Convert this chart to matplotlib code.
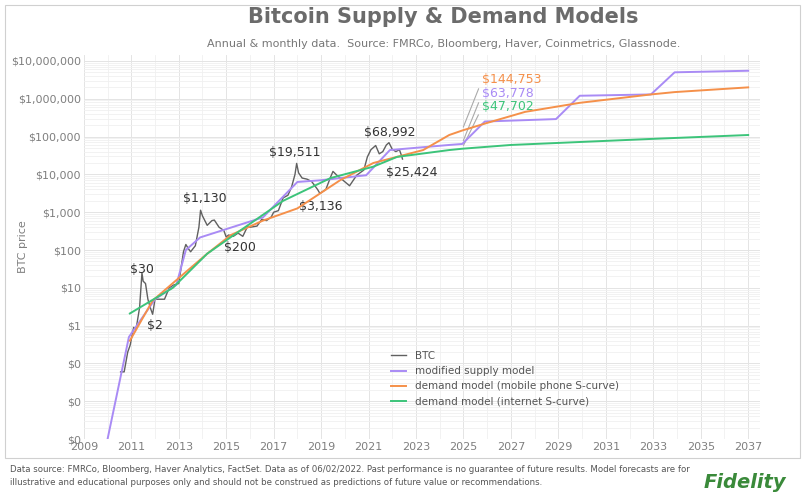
import matplotlib.pyplot as plt
import matplotlib.ticker as mticker
from matplotlib.patches import Rectangle
import numpy as np

# BTC price (approx)
btc_t = [2010.55, 2010.7, 2010.85, 2010.95, 2011.1, 2011.2, 2011.35, 2011.45, 2011.5, 2011.6,
         2011.7, 2011.8, 2011.9, 2012.0, 2012.2, 2012.4, 2012.6, 2012.8, 2013.0, 2013.2,
         2013.3, 2013.4, 2013.5, 2013.7, 2013.85, 2013.92, 2014.0, 2014.1, 2014.2, 2014.4,
         2014.5, 2014.7, 2014.9, 2015.0, 2015.1, 2015.3, 2015.5, 2015.7, 2015.9, 2016.0,
         2016.3, 2016.5, 2016.7, 2016.9, 2017.0, 2017.2, 2017.4, 2017.6, 2017.75, 2017.9,
         2017.97, 2018.05, 2018.2, 2018.4, 2018.6, 2018.85, 2018.95, 2019.2, 2019.4, 2019.5,
         2019.7, 2019.9, 2020.2, 2020.5, 2020.8, 2020.95, 2021.1, 2021.3, 2021.45, 2021.6,
         2021.75, 2021.86, 2022.0, 2022.15, 2022.3, 2022.4, 2022.43]
btc_p = [0.06, 0.06, 0.2, 0.3, 0.9, 0.8, 3, 25, 15, 13,
         5, 3, 2, 5, 5, 5, 10, 12, 13, 90,
         140, 110, 90, 130, 400, 1130, 800, 600, 450, 600,
         620, 400, 330, 220, 250, 230, 280, 230, 420, 400,
         430, 650, 600, 750, 1000, 1100, 2400, 2800, 4500, 10000,
         19511, 11000, 8000, 7500, 6500, 4000, 3136, 4000, 8500, 12000,
         9000, 7200, 5000, 9500, 13000, 29000, 45000, 58000, 35000, 40000,
         60000, 68992, 46000, 40000, 45000, 30000, 25424]

supply_t = [2010.0, 2010.9, 2012.0, 2012.9, 2013.3, 2013.9, 2016.55, 2018.0, 2019.0, 2020.9,
            2021.9, 2024.4, 2024.95, 2025.9, 2028.9, 2029.9, 2032.9, 2033.9, 2037.0]
supply_v = [0.001, 0.5, 5, 12, 100, 215, 730, 6300, 7000, 9500,
            44000, 60000, 63778, 250000, 290000, 1200000, 1300000, 5000000, 5500000]

mobile_t = [2010.94, 2011.9, 2012.9, 2014.2, 2015.2, 2016.55, 2018.0, 2019.8, 2021.2, 2023.3,
            2024.4, 2024.95, 2026.0, 2027.6, 2029.9, 2032.9, 2033.9, 2037.0]
mobile_v = [0.4, 4.6, 16, 80, 250, 600, 1260, 7000, 20000, 44000,
            110000, 144753, 230000, 450000, 780000, 1300000, 1500000, 2000000]

internet_t = [2010.94, 2012.75, 2014.2, 2015.6, 2017.4, 2019.4, 2021.2, 2022.2, 2024.4, 2024.95,
              2027.0, 2032.8, 2037.0]
internet_v = [2.1, 10, 80, 330, 2000, 8000, 16000, 29000, 44000, 47702,
              60000, 86000, 110000]

PURPLE = '#a98bf5'
ORANGE = '#f5904a'
GREEN = '#3cc47a'
GRAY = '#7f7f7f'

fig = plt.figure(figsize=(8.06, 5.03), dpi=100)
fig.patches.append(Rectangle((5/806, 1-458/503), 795/806, 453/503, transform=fig.transFigure,
                             fill=False, edgecolor='#d0d0d0', lw=0.8))
ax = fig.add_axes([0.104, 0.127, 0.839, 0.764])

ax.plot(btc_t, btc_p, color='#606060', lw=1.0, label='BTC', zorder=3)
ax.plot(supply_t, supply_v, color=PURPLE, lw=1.4, label='modified supply model', zorder=4)
ax.plot(mobile_t, mobile_v, color=ORANGE, lw=1.4, label='demand model (mobile phone S-curve)', zorder=5)
ax.plot(internet_t, internet_v, color=GREEN, lw=1.4, label='demand model (internet S-curve)', zorder=5)

ax.set_yscale('log')
ax.set_ylim(0.001, 1.45e7)
ax.set_xlim(2009, 2037.5)
ax.yaxis.set_major_locator(mticker.LogLocator(base=10, numticks=20))
ax.yaxis.set_minor_locator(mticker.LogLocator(base=10, subs=np.arange(2, 10), numticks=20))
ax.yaxis.set_major_formatter(mticker.FuncFormatter(lambda v, p: '${:,.0f}'.format(v)))
ax.yaxis.set_minor_formatter(mticker.NullFormatter())
ax.set_xticks(range(2009, 2038, 2))
ax.set_xticks(range(2009, 2038), minor=True)
ax.grid(which='major', color='#e4e4e4', lw=0.7)
ax.grid(which='minor', color='#f0f0f0', lw=0.6)
ax.tick_params(colors=GRAY, labelsize=8, length=0, which='both', pad=2)
for s in ax.spines.values():
    s.set_visible(False)
ax.set_ylabel('BTC price', color=GRAY, fontsize=8)
ax.yaxis.set_label_coords(-0.082, 0.5)

# peak/trough labels
for t, v, s in [(2011.45, 30, '$30'), (2012.0, 1.0, '$2'), (2014.1, 2300, '$1,130'),
                (2015.6, 120, '$200'), (2017.9, 38000, '$19,511'), (2019.0, 1450, '$3,136'),
                (2021.9, 130000, '$68,992'), (2022.8, 11500, '$25,424')]:
    ax.text(t, v, s, fontsize=9, color='#333333', ha='center', va='center')

# forecast labels with leaders
for y_txt, col, s, v in [(3.3e6, ORANGE, '$144,753', 144753), (1.4e6, PURPLE, '$63,778', 63778),
                         (6.2e5, GREEN, '$47,702', 47702)]:
    ax.annotate(s, xy=(2024.95, v * 1.05), xytext=(2025.8, y_txt), color=col, fontsize=9,
                va='center', arrowprops=dict(arrowstyle='-', color='#aaaaaa', lw=0.8,
                                             relpos=(0, 0.5)))

ax.legend(loc='lower left', bbox_to_anchor=(0.44, 0.06), frameon=False, fontsize=7.5,
          labelcolor='#555555', handlelength=1.5)

fig.text(0.55, 0.955, 'Bitcoin Supply & Demand Models', ha='center', fontsize=15,
         fontweight='bold', color='#6b6b6b')
fig.text(0.55, 0.907, 'Annual & monthly data.  Source: FMRCo, Bloomberg, Haver, Coinmetrics, Glassnode.',
         ha='center', fontsize=8, color='#777777')
fig.text(0.012, 0.062, 'Data source: FMRCo, Bloomberg, Haver Analytics, FactSet. Data as of 06/02/2022. '
         'Past performance is no guarantee of future results. Model forecasts are for', fontsize=6.2, color='#555555')
fig.text(0.012, 0.036, 'illustrative and educational purposes only and should not be construed as predictions '
         'of future value or recommendations.', fontsize=6.2, color='#555555')
fig.text(0.975, 0.03, 'Fidelity', ha='right', fontsize=14, fontweight='bold', style='italic', color='#3a8a3a')

plt.savefig('out.png', dpi=100)
